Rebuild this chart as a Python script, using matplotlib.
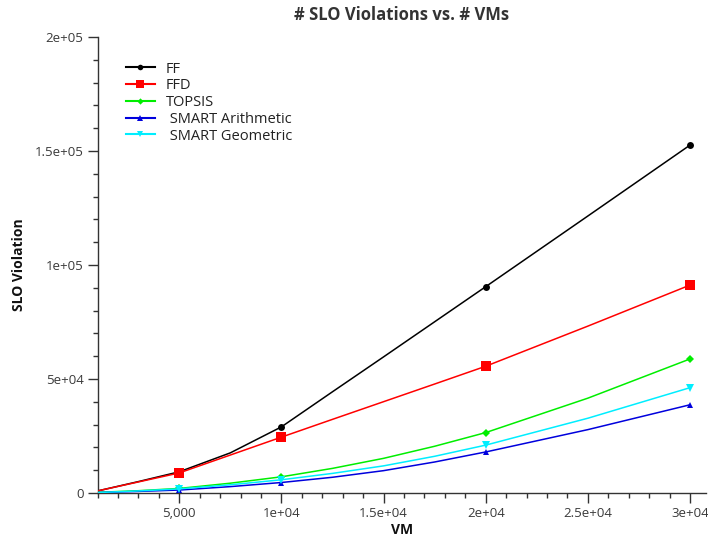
import matplotlib
matplotlib.use('Agg')
import matplotlib.pyplot as plt
from matplotlib.lines import Line2D
from matplotlib.ticker import MultipleLocator, FixedLocator

# ---- data (values at these VM counts) ----
vms = [1000, 3000, 5000, 7500, 10000, 12500, 15000, 17500, 20000, 25000, 30000]
marked_vms = [5000, 10000, 20000, 30000]
ff = [900, 5000, 9300, 17600, 29000, 44400, 59700, 75100, 90500, 121500, 152600]
ffd = [900, 4850, 8800, 16650, 24500, 32300, 40050, 47800, 55600, 73200, 91200]
topsis = [300, 1000, 2000, 4300, 7100, 10800, 15200, 20500, 26500, 41600, 58800]
smart_arith = [200, 700, 1300, 2800, 4600, 6900, 9800, 13600, 18000, 27800, 38700]
smart_geo = [200, 900, 1800, 3600, 5800, 8600, 11900, 16100, 21000, 32800, 46200]

series_names = ['FF', 'FFD', 'TOPSIS', ' SMART Arithmetic', ' SMART Geometric']
series_values = [ff, ffd, topsis, smart_arith, smart_geo]

x_ticks = [5000, 10000, 15000, 20000, 25000, 30000]
x_labels = ['5,000', '1e+04', '1.5e+04', '2e+04', '2.5e+04', '3e+04']
y_ticks = [0, 50000, 100000, 150000, 200000]
y_labels = ['0', '5e+04', '1e+05', '1.5e+05', '2e+05']

title = '# SLO Violations vs. # VMs'
x_title = 'VM'
y_title = 'SLO Violation'

# ---- styles ----
colors = ['#000000', '#ff0000', '#00ee00', '#0000dd', '#00eeff']
markers = ['o', 's', 'D', '^', 'v']
msizes = [5, 7, 4, 5, 5.5]

plt.rcParams['font.family'] = ['Open Sans', 'DejaVu Sans']

fig = plt.figure(figsize=(7.08, 5.39), dpi=100)
ax = fig.add_axes([97.5 / 708, 1 - 493 / 539, (706 - 97.5) / 708, (493 - 37) / 539])

mark_idx = [i for i, x in enumerate(vms) if x in marked_vms]
handles = []
for name, vals, c, mk, ms in zip(series_names, series_values, colors, markers, msizes):
    ax.plot(vms, vals, color=c, lw=1.1, marker=mk, markersize=ms,
            markeredgewidth=0, markevery=mark_idx, zorder=3)
    handles.append(Line2D([], [], color=c, lw=1.5, marker=mk,
                          markersize=ms * 0.8, markeredgewidth=0))

ax.set_xlim(1000, 30780)
ax.set_ylim(0, 200000)

ax.xaxis.set_major_locator(FixedLocator(x_ticks))
ax.set_xticklabels(x_labels)
ax.xaxis.set_minor_locator(MultipleLocator(1000))
ax.yaxis.set_major_locator(FixedLocator(y_ticks))
ax.set_yticklabels(y_labels)
ax.yaxis.set_minor_locator(MultipleLocator(10000))

for s in ['top', 'right']:
    ax.spines[s].set_visible(False)
for s in ['left', 'bottom']:
    ax.spines[s].set_color('#333333')
    ax.spines[s].set_linewidth(1.0)

ax.tick_params(which='major', direction='out', length=7, width=1.0,
               color='#333333', labelsize=9.5, labelcolor='#3a3a3a', pad=3)
ax.tick_params(which='minor', direction='out', length=3.5, width=1.0,
               color='#333333')

ax.set_title(title, fontsize=12, fontweight='bold', color='#333333', pad=12)
ax.set_xlabel(x_title, fontsize=10, fontweight='bold', color='#111111', labelpad=2)
ax.set_ylabel(y_title, fontsize=10, fontweight='bold', color='#111111', labelpad=6)

leg = ax.legend(handles, series_names, loc='upper left', frameon=False,
                fontsize=10.5, handlelength=2.0, handletextpad=0.75,
                labelspacing=0.12, bbox_to_anchor=(0.025, 0.975),
                labelcolor='#222222')

fig.savefig('out.png', dpi=100)
